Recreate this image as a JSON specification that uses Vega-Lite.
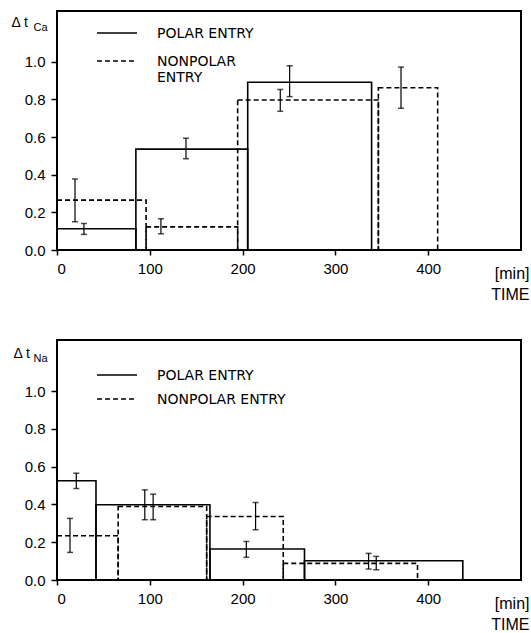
{
  "$schema": "https://vega.github.io/schema/vega-lite/v6.json",
  "background": "white",
  "padding": {"left": 10, "top": 10, "right": 3, "bottom": 0},
  "spacing": 36,
  "config": {
    "view": {"stroke": "black", "strokeWidth": 2},
    "font": "Liberation Sans",
    "axis": {"domain": false, "grid": false, "ticks": true, "tickColor": "black", "tickWidth": 1.5, "labelColor": "black", "labelFont": "Liberation Sans", "labelFontSize": 15, "titleColor": "black", "titleFont": "Liberation Sans", "titleFontWeight": "normal"},
    "legend": {"orient": "none", "padding": 0, "labelColor": "black", "labelFont": "DejaVu Sans", "labelFontSize": 14, "labelLimit": 300, "symbolType": "M-1,-0.25H1", "symbolSize": 1600, "symbolStrokeWidth": 1.5, "symbolStrokeColor": "black", "symbolOpacity": 1, "labelOffset": 19, "labelBaseline": "alphabetic"}
  },
  "resolve": {"scale": {"strokeDash": "independent"}, "legend": {"strokeDash": "independent"}},
  "vconcat": [
    {
      "width": 464,
      "height": 239,
      "resolve": {"scale": {"y": "independent"}},
      "layer": [
        {
          "data": {"values": [
            {"series": "POLAR ENTRY", "start": 0, "end": 85, "value": 0.113},
            {"series": "POLAR ENTRY", "start": 85, "end": 205.5, "value": 0.536},
            {"series": "POLAR ENTRY", "start": 205.5, "end": 339, "value": 0.891},
            {"series": "NONPOLAR ENTRY", "start": 0, "end": 96, "value": 0.265},
            {"series": "NONPOLAR ENTRY", "start": 96, "end": 194.7, "value": 0.123},
            {"series": "NONPOLAR ENTRY", "start": 194.7, "end": 346.3, "value": 0.797},
            {"series": "NONPOLAR ENTRY", "start": 346.3, "end": 410.2, "value": 0.862}
          ]},
          "mark": {"type": "bar", "filled": false, "stroke": "black", "strokeWidth": 1.6},
          "encoding": {
            "x": {"field": "start", "type": "quantitative", "scale": {"domain": [0, 500], "nice": false},
              "axis": {"values": [0, 100, 200, 300, 400], "tickSize": 5, "labelPadding": 6, "title": ["[min]", "TIME"], "titleAnchor": "end", "titleAlign": "right", "titleX": 472, "titleY": 28, "titleBaseline": "alphabetic", "titleFontSize": 16, "titleLineHeight": 21}},
            "x2": {"field": "end"},
            "y": {"field": "value", "type": "quantitative", "scale": {"domain": [0, 1.27], "nice": false},
              "axis": {"values": [0, 0.2, 0.4, 0.6, 0.8, 1.0], "format": ".1f", "tickSize": 6, "labelPadding": 6, "title": "Δ t", "titleAngle": 0, "titleAlign": "left", "titleBaseline": "alphabetic", "titleX": -46, "titleY": 15, "titleFontSize": 14}},
            "y2": {"datum": 0},
            "strokeDash": {"field": "series", "type": "nominal",
              "scale": {"domain": ["POLAR ENTRY", "NONPOLAR ENTRY"], "range": [[1, 0], [5, 3]]},
              "legend": {"title": null, "legendX": 39, "legendY": 6, "rowPadding": 4,
                "labelExpr": "datum.label == 'NONPOLAR ENTRY' ? ['NONPOLAR', 'ENTRY'] : datum.label",
                "encode": {"symbols": {"stroke": {"value": "black"}, "strokeWidth": {"value": 1.5}, "opacity": {"value": 1}, "strokeOpacity": {"value": 1}}}}}
          }
        },
        {
          "data": {"values": [
            {"series": "POLAR ENTRY", "t": 29, "lo": 0.083, "hi": 0.141},
            {"series": "POLAR ENTRY", "t": 139, "lo": 0.485, "hi": 0.594},
            {"series": "POLAR ENTRY", "t": 250.7, "lo": 0.815, "hi": 0.979},
            {"series": "NONPOLAR ENTRY", "t": 19.4, "lo": 0.15, "hi": 0.377},
            {"series": "NONPOLAR ENTRY", "t": 112, "lo": 0.086, "hi": 0.166},
            {"series": "NONPOLAR ENTRY", "t": 240.6, "lo": 0.737, "hi": 0.853},
            {"series": "NONPOLAR ENTRY", "t": 370.7, "lo": 0.753, "hi": 0.972}
          ]},
          "layer": [
            {
              "mark": {"type": "rule", "color": "black", "strokeWidth": 1.2},
              "encoding": {
                "x": {"field": "t", "type": "quantitative"},
                "y": {"field": "lo", "type": "quantitative", "scale": {"domain": [0, 1.27], "nice": false},
                  "axis": {"orient": "left", "title": "Ca", "labels": false, "ticks": false, "domain": false, "titleAngle": 0, "titleAlign": "left", "titleBaseline": "alphabetic", "titleX": -24, "titleY": 19, "titleFontSize": 11}},
                "y2": {"field": "hi"}
              }
            },
            {
              "mark": {"type": "tick", "orient": "horizontal", "color": "black", "size": 6, "thickness": 1.5},
              "encoding": {
                "x": {"field": "t", "type": "quantitative"},
                "y": {"field": "lo", "type": "quantitative", "scale": {"domain": [0, 1.27], "nice": false},
                  "axis": {"orient": "left", "title": "Ca", "labels": false, "ticks": false, "domain": false, "titleAngle": 0, "titleAlign": "left", "titleBaseline": "alphabetic", "titleX": -24, "titleY": 19, "titleFontSize": 11}}
              }
            },
            {
              "mark": {"type": "tick", "orient": "horizontal", "color": "black", "size": 6, "thickness": 1.5},
              "encoding": {
                "x": {"field": "t", "type": "quantitative"},
                "y": {"field": "hi", "type": "quantitative", "scale": {"domain": [0, 1.27], "nice": false},
                  "axis": {"orient": "left", "title": "Ca", "labels": false, "ticks": false, "domain": false, "titleAngle": 0, "titleAlign": "left", "titleBaseline": "alphabetic", "titleX": -24, "titleY": 19, "titleFontSize": 11}}
              }
            }
          ]
        }
      ]
    },
    {
      "width": 464,
      "height": 240,
      "resolve": {"scale": {"y": "independent"}},
      "layer": [
        {
          "data": {"values": [
            {"series": "POLAR ENTRY", "start": 0, "end": 42, "value": 0.525},
            {"series": "POLAR ENTRY", "start": 42, "end": 164.8, "value": 0.398},
            {"series": "POLAR ENTRY", "start": 164.8, "end": 266.7, "value": 0.164},
            {"series": "POLAR ENTRY", "start": 266.7, "end": 437.3, "value": 0.102},
            {"series": "NONPOLAR ENTRY", "start": 0, "end": 65.9, "value": 0.234},
            {"series": "NONPOLAR ENTRY", "start": 65.9, "end": 161.3, "value": 0.389},
            {"series": "NONPOLAR ENTRY", "start": 161.3, "end": 243.8, "value": 0.336},
            {"series": "NONPOLAR ENTRY", "start": 243.8, "end": 388.5, "value": 0.088}
          ]},
          "mark": {"type": "bar", "filled": false, "stroke": "black", "strokeWidth": 1.6},
          "encoding": {
            "x": {"field": "start", "type": "quantitative", "scale": {"domain": [0, 500], "nice": false},
              "axis": {"values": [0, 100, 200, 300, 400], "tickSize": 5, "labelPadding": 6, "title": ["[min]", "TIME"], "titleAnchor": "end", "titleAlign": "right", "titleX": 472, "titleY": 28, "titleBaseline": "alphabetic", "titleFontSize": 16, "titleLineHeight": 21}},
            "x2": {"field": "end"},
            "y": {"field": "value", "type": "quantitative", "scale": {"domain": [0, 1.27], "nice": false},
              "axis": {"values": [0, 0.2, 0.4, 0.6, 0.8, 1.0], "format": ".1f", "tickSize": 6, "labelPadding": 6, "title": "Δ t", "titleAngle": 0, "titleAlign": "left", "titleBaseline": "alphabetic", "titleX": -44, "titleY": 17, "titleFontSize": 14}},
            "y2": {"datum": 0},
            "strokeDash": {"field": "series", "type": "nominal",
              "scale": {"domain": ["POLAR ENTRY", "NONPOLAR ENTRY"], "range": [[1, 0], [5, 3]]},
              "legend": {"title": null, "legendX": 39, "legendY": 19, "rowPadding": -3,
                "encode": {"symbols": {"stroke": {"value": "black"}, "strokeWidth": {"value": 1.5}, "opacity": {"value": 1}, "strokeOpacity": {"value": 1}}}}}
          }
        },
        {
          "data": {"values": [
            {"series": "POLAR ENTRY", "t": 20.8, "lo": 0.484, "hi": 0.565},
            {"series": "POLAR ENTRY", "t": 103.6, "lo": 0.319, "hi": 0.454},
            {"series": "POLAR ENTRY", "t": 204, "lo": 0.12, "hi": 0.204},
            {"series": "POLAR ENTRY", "t": 344, "lo": 0.054, "hi": 0.125},
            {"series": "NONPOLAR ENTRY", "t": 14, "lo": 0.146, "hi": 0.326},
            {"series": "NONPOLAR ENTRY", "t": 94.6, "lo": 0.319, "hi": 0.477},
            {"series": "NONPOLAR ENTRY", "t": 214, "lo": 0.266, "hi": 0.41},
            {"series": "NONPOLAR ENTRY", "t": 335.8, "lo": 0.058, "hi": 0.141}
          ]},
          "layer": [
            {
              "mark": {"type": "rule", "color": "black", "strokeWidth": 1.2},
              "encoding": {
                "x": {"field": "t", "type": "quantitative"},
                "y": {"field": "lo", "type": "quantitative", "scale": {"domain": [0, 1.27], "nice": false},
                  "axis": {"orient": "left", "title": "Na", "labels": false, "ticks": false, "domain": false, "titleAngle": 0, "titleAlign": "left", "titleBaseline": "alphabetic", "titleX": -24, "titleY": 21, "titleFontSize": 11}},
                "y2": {"field": "hi"}
              }
            },
            {
              "mark": {"type": "tick", "orient": "horizontal", "color": "black", "size": 6, "thickness": 1.5},
              "encoding": {
                "x": {"field": "t", "type": "quantitative"},
                "y": {"field": "lo", "type": "quantitative", "scale": {"domain": [0, 1.27], "nice": false},
                  "axis": {"orient": "left", "title": "Na", "labels": false, "ticks": false, "domain": false, "titleAngle": 0, "titleAlign": "left", "titleBaseline": "alphabetic", "titleX": -24, "titleY": 21, "titleFontSize": 11}}
              }
            },
            {
              "mark": {"type": "tick", "orient": "horizontal", "color": "black", "size": 6, "thickness": 1.5},
              "encoding": {
                "x": {"field": "t", "type": "quantitative"},
                "y": {"field": "hi", "type": "quantitative", "scale": {"domain": [0, 1.27], "nice": false},
                  "axis": {"orient": "left", "title": "Na", "labels": false, "ticks": false, "domain": false, "titleAngle": 0, "titleAlign": "left", "titleBaseline": "alphabetic", "titleX": -24, "titleY": 21, "titleFontSize": 11}}
              }
            }
          ]
        }
      ]
    }
  ]
}
